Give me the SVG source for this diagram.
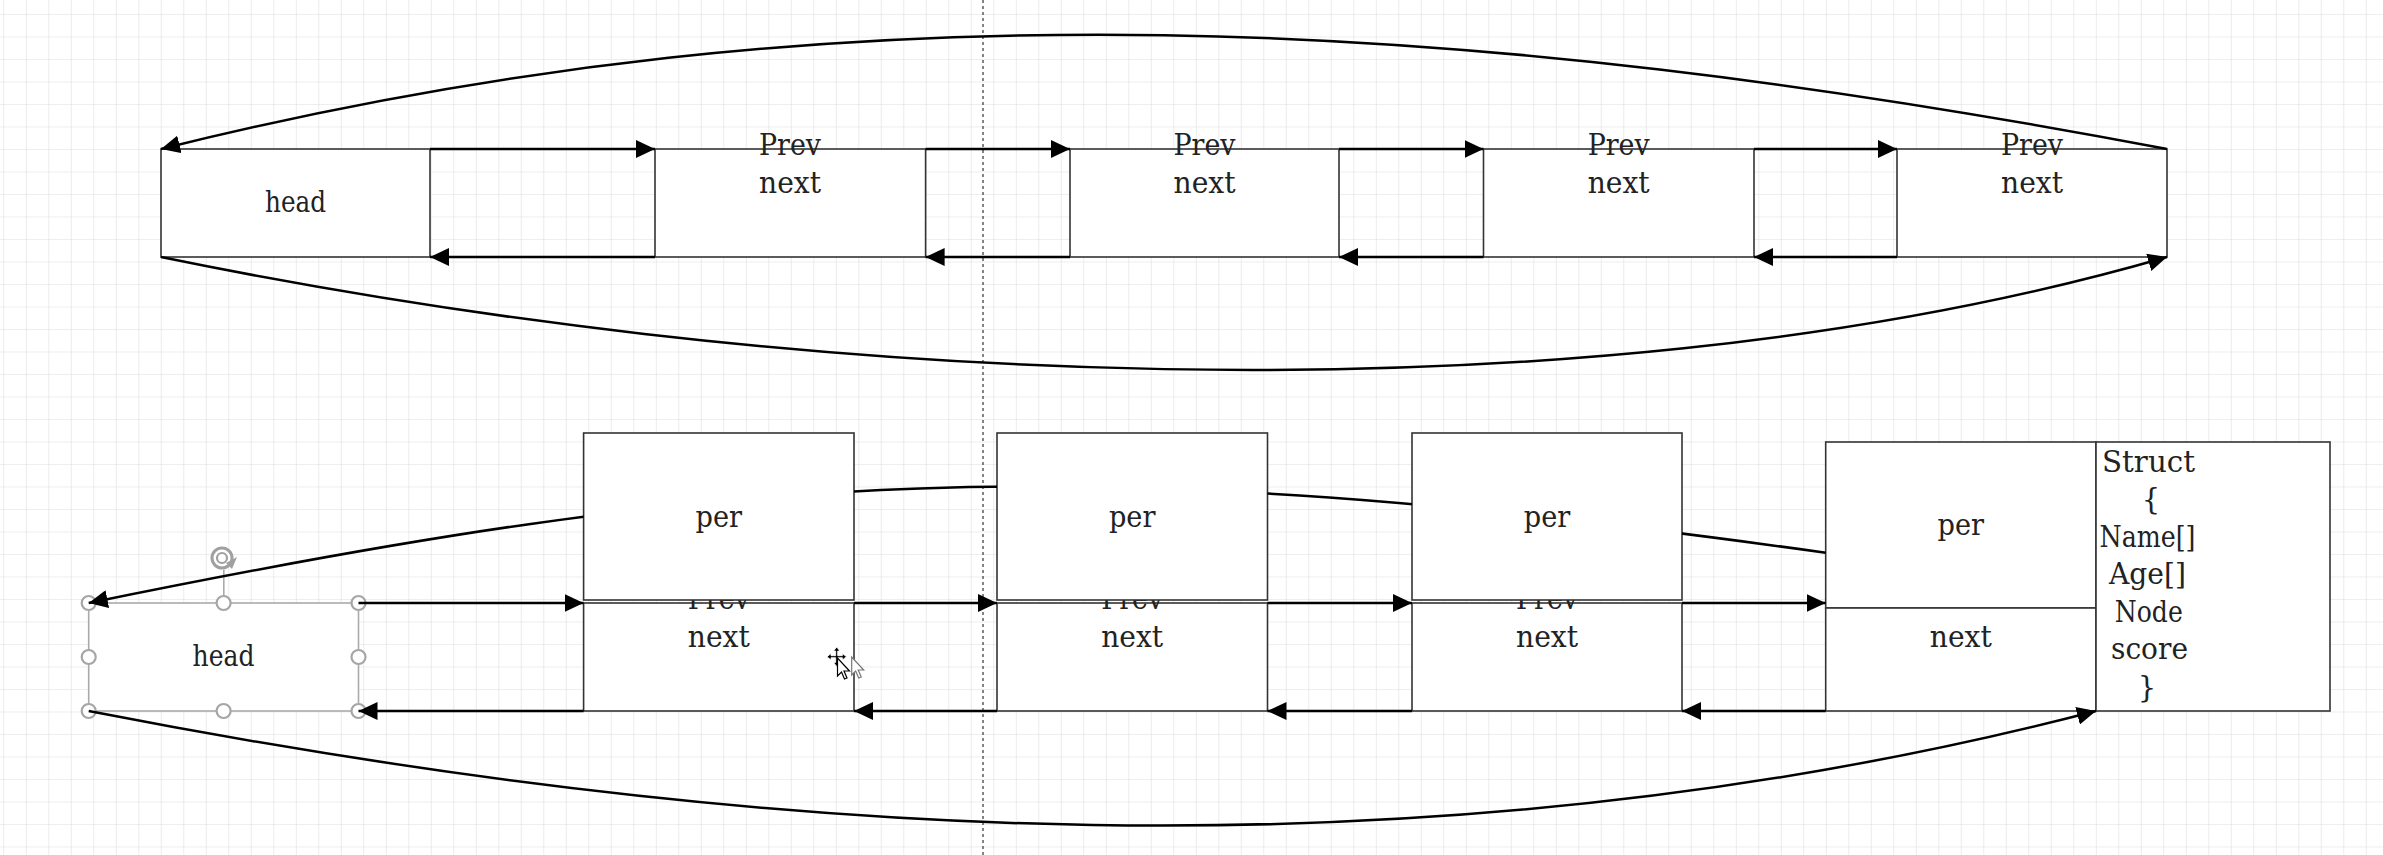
<svg xmlns="http://www.w3.org/2000/svg" width="2383" height="855" viewBox="0 0 2383 855">
<style>
.box{fill:#fff;stroke:#333;stroke-width:1.6}
.sel{fill:#fff;stroke:#aaa;stroke-width:1.6}
.t{font-family:"DejaVu Serif","Liberation Serif",serif;font-size:29px;fill:#222;text-anchor:middle}
.c{fill:none;stroke:#000;stroke-width:2.5}
.h{fill:#fff;stroke:#a6a6a6;stroke-width:2.2}
</style>
<defs>
<pattern id="grid" width="22.5" height="22.5" patternUnits="userSpaceOnUse" x="3.3" y="14">
<path d="M0,0 H22.5 M0,0 V22.5" fill="none" stroke="#dedede" stroke-width="1.2"/>
</pattern>
<marker id="ah" markerUnits="userSpaceOnUse" markerWidth="20" markerHeight="18" refX="19" refY="9" orient="auto">
<path d="M0,0 L19,9 L0,18 z" fill="#000"/>
</marker>
<mask id="hide" maskUnits="userSpaceOnUse" x="0" y="0" width="2383" height="855">
<rect x="0" y="0" width="2383" height="855" fill="#fff"/>
<rect x="583.6" y="433" width="270.4" height="167" fill="#000"/>
<rect x="997" y="433" width="270.5" height="167" fill="#000"/>
<rect x="1412" y="433" width="270" height="167" fill="#000"/>
</mask>
</defs>
<rect x="0" y="0" width="2383" height="855" fill="#fff"/>
<rect x="0" y="0" width="2383" height="855" fill="url(#grid)"/>
<line x1="983" y1="0" x2="983" y2="855" stroke="#333" stroke-width="1.2" stroke-dasharray="3,3"/>

<g id="top-head"><rect class="box" x="161" y="149" width="269" height="108"/><text class="t" x="295.5" y="212" textLength="61" lengthAdjust="spacingAndGlyphs">head</text></g>
<g id="top-node1"><rect class="box" x="655" y="149" width="270.6" height="108"/><text class="t" x="790" y="155" textLength="62" lengthAdjust="spacingAndGlyphs">Prev</text><text class="t" x="790" y="193" textLength="62" lengthAdjust="spacingAndGlyphs">next</text></g>
<g id="top-node2"><rect class="box" x="1070" y="149" width="269" height="108"/><text class="t" x="1204.5" y="155" textLength="62" lengthAdjust="spacingAndGlyphs">Prev</text><text class="t" x="1204.5" y="193" textLength="62" lengthAdjust="spacingAndGlyphs">next</text></g>
<g id="top-node3"><rect class="box" x="1483.5" y="149" width="270.5" height="108"/><text class="t" x="1618.7" y="155" textLength="62" lengthAdjust="spacingAndGlyphs">Prev</text><text class="t" x="1618.7" y="193" textLength="62" lengthAdjust="spacingAndGlyphs">next</text></g>
<g id="top-node4"><rect class="box" x="1897" y="149" width="270" height="108"/><text class="t" x="2032" y="155" textLength="62" lengthAdjust="spacingAndGlyphs">Prev</text><text class="t" x="2032" y="193" textLength="62" lengthAdjust="spacingAndGlyphs">next</text></g>

<g id="bot-node1"><rect class="box" x="583.6" y="603" width="270.4" height="108"/><text class="t" x="718.8" y="609" textLength="62" lengthAdjust="spacingAndGlyphs">Prev</text><text class="t" x="718.8" y="647" textLength="62" lengthAdjust="spacingAndGlyphs">next</text><rect class="box" x="583.6" y="433" width="270.4" height="167"/><text class="t" x="718.8" y="527" textLength="46.5" lengthAdjust="spacingAndGlyphs">per</text></g>
<g id="bot-node2"><rect class="box" x="997" y="603" width="270.5" height="108"/><text class="t" x="1132.2" y="609" textLength="62" lengthAdjust="spacingAndGlyphs">Prev</text><text class="t" x="1132.2" y="647" textLength="62" lengthAdjust="spacingAndGlyphs">next</text><rect class="box" x="997" y="433" width="270.5" height="167"/><text class="t" x="1132.2" y="527" textLength="46.5" lengthAdjust="spacingAndGlyphs">per</text></g>
<g id="bot-node3"><rect class="box" x="1412" y="603" width="270" height="108"/><text class="t" x="1547" y="609" textLength="62" lengthAdjust="spacingAndGlyphs">Prev</text><text class="t" x="1547" y="647" textLength="62" lengthAdjust="spacingAndGlyphs">next</text><rect class="box" x="1412" y="433" width="270" height="167"/><text class="t" x="1547" y="527" textLength="46.5" lengthAdjust="spacingAndGlyphs">per</text></g>
<g id="bot-node4"><rect class="box" x="1825.7" y="442" width="270.3" height="166"/><text class="t" x="1960.8" y="535" textLength="46.5" lengthAdjust="spacingAndGlyphs">per</text><rect class="box" x="1825.7" y="608" width="270.3" height="103"/><text class="t" x="1960.8" y="647" textLength="62" lengthAdjust="spacingAndGlyphs">next</text></g>
<g id="struct"><rect class="box" x="2096" y="442" width="234" height="269"/>
<text class="t" x="2148.5" y="471.7" textLength="93" lengthAdjust="spacingAndGlyphs">Struct</text>
<text class="t" x="2151" y="509.2">{</text>
<text class="t" x="2147.5" y="546.7" textLength="96" lengthAdjust="spacingAndGlyphs">Name[]</text>
<text class="t" x="2147.5" y="584.2" textLength="77" lengthAdjust="spacingAndGlyphs">Age[]</text>
<text class="t" x="2148.8" y="621.7" textLength="68" lengthAdjust="spacingAndGlyphs">Node</text>
<text class="t" x="2149.5" y="659.2" textLength="77" lengthAdjust="spacingAndGlyphs">score</text>
<text class="t" x="2147" y="696.7">}</text></g>

<g id="bot-head"><rect class="sel" x="88.7" y="603" width="269.8" height="108"/><text class="t" x="223.6" y="666" textLength="62" lengthAdjust="spacingAndGlyphs">head</text>
<line x1="223.8" y1="570" x2="223.8" y2="603" stroke="#aaa" stroke-width="1.6"/>
<circle cx="222" cy="558" r="10" fill="#fff" stroke="#a0a0a0" stroke-width="3"/>
<circle cx="222" cy="558" r="5" fill="none" stroke="#a0a0a0" stroke-width="2.2"/>
<path d="M226,563 L237,557 L232,569 z" fill="#a0a0a0"/>
<circle class="h" cx="88.7" cy="603" r="7"/><circle class="h" cx="223.6" cy="603" r="7"/><circle class="h" cx="358.5" cy="603" r="7"/>
<circle class="h" cx="88.7" cy="657" r="7"/><circle class="h" cx="358.5" cy="657" r="7"/>
<circle class="h" cx="88.7" cy="711" r="7"/><circle class="h" cx="223.6" cy="711" r="7"/><circle class="h" cx="358.5" cy="711" r="7"/>
</g>

<g id="connectors">
<line class="c" x1="430" y1="149" x2="655" y2="149" marker-end="url(#ah)"/>
<line class="c" x1="655" y1="257" x2="430" y2="257" marker-end="url(#ah)"/>
<line class="c" x1="925.6" y1="149" x2="1070" y2="149" marker-end="url(#ah)"/>
<line class="c" x1="1070" y1="257" x2="925.6" y2="257" marker-end="url(#ah)"/>
<line class="c" x1="1339" y1="149" x2="1483.5" y2="149" marker-end="url(#ah)"/>
<line class="c" x1="1483.5" y1="257" x2="1339" y2="257" marker-end="url(#ah)"/>
<line class="c" x1="1754" y1="149" x2="1897" y2="149" marker-end="url(#ah)"/>
<line class="c" x1="1897" y1="257" x2="1754" y2="257" marker-end="url(#ah)"/>
<path class="c" d="M2167,149 C1477,18 851,-23.5 161,149" marker-end="url(#ah)"/>
<path class="c" d="M161,257 C765,381 1563,432 2167,257" marker-end="url(#ah)"/>

<line class="c" x1="358.5" y1="603" x2="583.6" y2="603" marker-end="url(#ah)"/>
<line class="c" x1="583.6" y1="711" x2="358.5" y2="711" marker-end="url(#ah)"/>
<line class="c" x1="854" y1="603" x2="997" y2="603" marker-end="url(#ah)"/>
<line class="c" x1="997" y1="711" x2="854" y2="711" marker-end="url(#ah)"/>
<line class="c" x1="1267.5" y1="603" x2="1412" y2="603" marker-end="url(#ah)"/>
<line class="c" x1="1412" y1="711" x2="1267.5" y2="711" marker-end="url(#ah)"/>
<line class="c" x1="1682" y1="603" x2="1825.7" y2="603" marker-end="url(#ah)"/>
<line class="c" x1="1825.7" y1="711" x2="1682" y2="711" marker-end="url(#ah)"/>
<path class="c" d="M1825.7,552.7 C1075.7,447.7 738.7,469.75 88.7,603" marker-end="url(#ah)" mask="url(#hide)"/>
<path class="c" d="M88.7,711 C756.7,841.3 1428,884.7 2096,711" marker-end="url(#ah)"/>
</g>

<g id="cursor">
<path d="M836.7,647 L833.5,651 H835.7 V655.7 H831 V653.5 L827,656.7 L831,660 V657.7 H835.7 V662.4 H833.5 L836.7,666.4 L839.9,662.4 H837.7 V657.7 H842.4 V660 L846.4,656.7 L842.4,653.5 V655.7 H837.7 V651 H839.9 z" fill="#000" stroke="#fff" stroke-width="0.8"/>
<path d="M837.5,658 V676 L841.5,672 L844.5,679 L847,678 L844,671 L849.5,671 z" fill="#fff" stroke="#000" stroke-width="1.2"/>
<path d="M851.7,657 V675 L855.7,671 L858.7,678 L861.2,677 L858.2,670 L863.7,670 z" fill="#fff" stroke="#777" stroke-width="1.2"/>
</g>
</svg>
